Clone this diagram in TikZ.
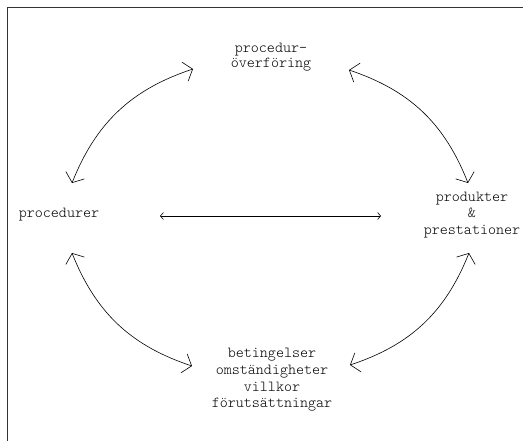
\documentclass[tikz,border=0pt]{standalone}
\usepackage{fontspec}
\setmonofont{Latin Modern Mono Light}
\usetikzlibrary{arrows.meta}

\tikzset{
  word/.style={font=\ttfamily\fontsize{15.3}{16.7}\selectfont, align=center, inner sep=0pt},
  link/.style={{Straight Barb[length=8pt,width=20pt]}-{Straight Barb[length=8pt,width=20pt]}, line width=0.6pt},
  flatlink/.style={{Straight Barb[length=3pt,width=7pt]}-{Straight Barb[length=3pt,width=7pt]}, line width=0.6pt}
}

\begin{document}
\begin{tikzpicture}[x=1pt,y=-1pt]
        \useasboundingbox (0,0) rectangle (523,441);

        % frame, only the left and top lines show
        \draw[line width=1pt, black!80] (7,441) -- (7,8) -- (523,8);

        \node[word] (transfer) at (271,57) {procedur-\\[-1.7pt]överföring}; % top
        \node[word] (proc) at (59,215) {procedurer}; % left
        \node[word] (prod) at (472,215) {produkter\\\&\\prestationer}; % right
        \node[word] (cond) at (272,380) {betingelser\\omständigheter\\villkor\\förutsättningar}; % bottom

        \draw[link] ([shift={(-78,12)}]transfer.center) to[bend right=25] ([shift={(13,-32)}]proc.center); % top left arc
        \draw[link] ([shift={(78,13)}]transfer.center) to[bend left=25] ([shift={(-4,-32)}]prod.center); % top right arc
        \draw[link] ([shift={(13,38)}]proc.center) to[bend right=25] ([shift={(-80,-14)}]cond.center); % bottom left arc
        \draw[link] ([shift={(-3,38)}]prod.center) to[bend left=25] ([shift={(78,-15)}]cond.center); % bottom right arc
        \draw[flatlink] ([shift={(101,1)}]proc.center) -- ([shift={(-91,1)}]prod.center); % straight middle arrow
    \end{tikzpicture}
\end{document}
